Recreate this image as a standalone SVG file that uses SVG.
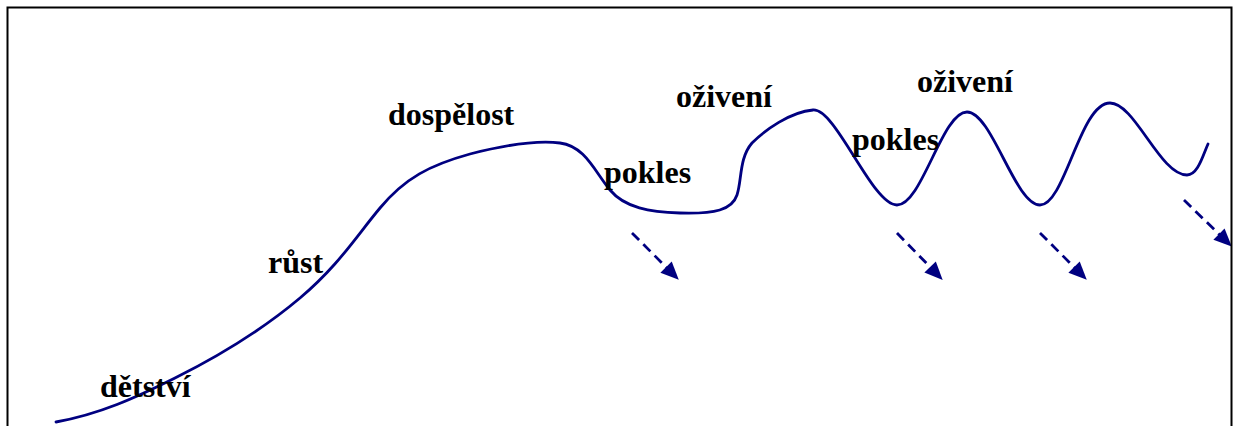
<svg xmlns="http://www.w3.org/2000/svg" width="1238" height="426" viewBox="0 0 1238 426">
  <style>
    .lbl { font-family: "Liberation Serif", "Times New Roman", serif; font-weight: bold; font-size: 32px; fill: #000; }
    .curve { fill: none; stroke: #000080; stroke-width: 2.8; stroke-linecap: round; stroke-linejoin: round; }
    .arr { fill: none; stroke: #000080; stroke-width: 2.8; stroke-dasharray: 10 6; marker-end: url(#head); }
    .frame { fill: none; stroke: #000; stroke-width: 2; }
  </style>
  <defs>
    <marker id="head" markerUnits="userSpaceOnUse" markerWidth="18" markerHeight="16" refX="7" refY="8" orient="auto" overflow="visible">
      <path d="M0,0 L18,8 L0,16 Z" fill="#000080"/>
    </marker>
    <clipPath id="inside">
      <rect x="0" y="0" width="1231" height="426"/>
    </clipPath>
  </defs>
  <rect x="0" y="0" width="1238" height="426" fill="#fff"/>

  <g id="curve">
    <path class="curve" d="M56,422 C100,414 135,398 175,378 C215,358 262,330 300,298 C338,266 355,238 380,208 C405,178 430,165 470,154 C505,145 535,140 560,143 C585,146 595,172 610,190 C625,208 650,212 680,213 C715,214 732,210 737,195 C742,180 739,158 752,143 C765,130 790,112 813,110 C836,108 872,205 897,205 C922,205 942,112 967,112 C992,112 1015,205 1040,205 C1065,205 1080,103 1110,103 C1135,103 1160,175 1187,175 C1198,175 1203,155 1208,144"/>
  </g>

  <g id="connectors" clip-path="url(#inside)">
    <line class="arr" x1="632" y1="233" x2="671" y2="272"/>
    <line class="arr" x1="897" y1="233" x2="935" y2="272"/>
    <line class="arr" x1="1040" y1="233" x2="1079" y2="272"/>
    <line class="arr" x1="1184" y1="200" x2="1224" y2="239"/>
  </g>

  <g id="detstvi"><text class="lbl" x="100" y="397">dětství</text></g>
  <g id="rust"><text class="lbl" x="268" y="273">růst</text></g>
  <g id="dospelost"><text class="lbl" x="388" y="125">dospělost</text></g>
  <g id="pokles1"><text class="lbl" x="604" y="183">pokles</text></g>
  <g id="oziveni1"><text class="lbl" x="676" y="107">oživení</text></g>
  <g id="pokles2"><text class="lbl" x="852" y="150">pokles</text></g>
  <g id="oziveni2"><text class="lbl" x="917" y="92">oživení</text></g>

  <path class="frame" d="M7.5,430 L7.5,7.5 L1231.5,7.5 L1231.5,430"/>
</svg>
